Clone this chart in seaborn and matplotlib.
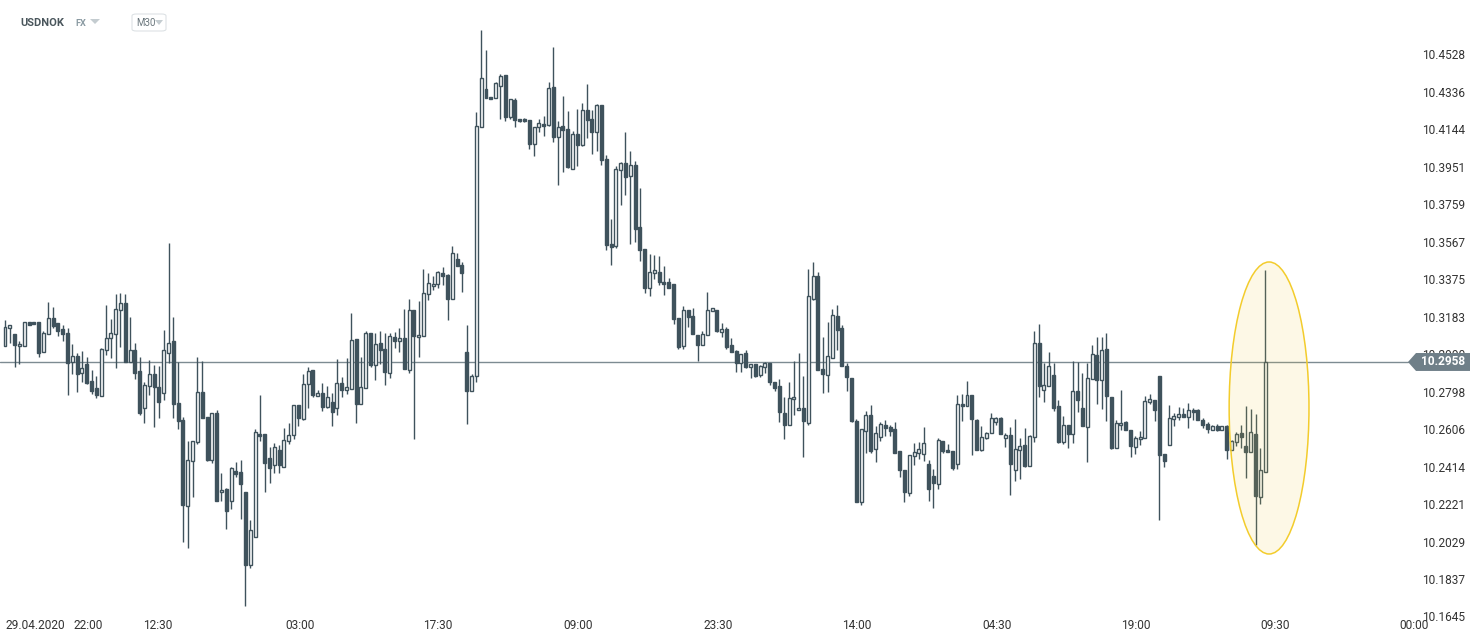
import matplotlib
matplotlib.use("Agg")
import matplotlib.pyplot as plt
import matplotlib.transforms as mtransforms
from matplotlib.patches import Ellipse, Polygon, FancyBboxPatch
import numpy as np
import pandas as pd
import seaborn as sns

# ---------------- data ----------------
symbol = "USDNOK"
market = "FX"
timeframe = "M30"
date_label = "29.04.2020"
last_price = 10.2958

opens = [10.3040,10.3132,10.3101,10.3040,10.3040,10.3163,10.3163,10.3163,10.3010,10.3101,
         10.3184,10.3158,10.3127,10.3107,10.2958,10.2989,10.2902,10.2947,10.2861,10.2825,
         10.2783,10.3020,10.3081,10.3101,10.3225,10.3261,10.2958,10.3020,10.2912,10.2722,
         10.2835,10.2896,10.2830,10.2799,10.3005,10.3066,10.2748,10.2660,10.2219,10.2450,
         10.2548,10.2804,10.2676,10.2455,10.2697,10.2291,10.2307,10.2245,10.2399,10.2394,
         10.2291,10.1916,10.2060,10.2588,10.2588,10.2466,10.2429,10.2507,10.2419,10.2553,
         10.2583,10.2737,10.2665,10.2845,10.2917,10.2783,10.2799,10.2727,10.2753,10.2722,
         10.2851,10.2814,10.2820,10.3076,10.2742,10.2825,10.3107,10.2942,10.3056,10.3025,
         10.2902,10.3086,10.3066,10.3081,10.2917,10.3225,10.3086,10.3091,10.3306,10.3348,
         10.3358,10.3415,10.3404,10.3281,10.3487,10.3455,10.3010,10.2809,10.2886,10.4163,
         10.4359,10.4317,10.4312,10.4374,10.4430,10.4215,10.4302,10.4204,10.4204,10.4199,
         10.4076,10.4163,10.4179,10.4174,10.4369,10.4112,10.4168,10.4153,10.3948,10.4128,
         10.4071,10.4251,10.4204,10.4138,10.4276,10.3999,10.3563,10.3553,10.3943,10.3979,
         10.3912,10.3969,10.3650,10.3538,10.3338,10.3415,10.3420,10.3369,10.3369,10.3358,
         10.3184,10.3040,10.3225,10.3194,10.3096,10.3045,10.3096,10.3220,10.3225,10.3112,
         10.3127,10.3045,10.3015,10.2953,10.3005,10.2932,10.2947,10.2891,10.2932,10.2953,
         10.2856,10.2835,10.2697,10.2635,10.2768,10.2712,10.2722,10.2645,10.3281,10.3399,
         10.2922,10.2891,10.2979,10.3194,10.3132,10.2937,10.2876,10.2655,10.2240,10.2604,
         10.2686,10.2512,10.2573,10.2635,10.2624,10.2614,10.2502,10.2404,10.2286,10.2476,
         10.2492,10.2486,10.2435,10.2373,10.2332,10.2553,10.2507,10.2502,10.2435,10.2742,
         10.2732,10.2788,10.2660,10.2507,10.2568,10.2594,10.2650,10.2670,10.2568,10.2583,
         10.2404,10.2507,10.2532,10.2424,10.2573,10.3056,10.2814,10.2835,10.2891,10.2732,
         10.2548,10.2635,10.2588,10.2809,10.2722,10.2624,10.2871,10.2994,10.2866,10.3025,
         10.2778,10.2517,10.2635,10.2650,10.2609,10.2522,10.2563,10.2568,10.2753,10.2763,
         10.2886,10.2486,10.2532,10.2665,10.2676,10.2691,10.2676,10.2712,10.2712,10.2660,
         10.2640,10.2609,10.2629,10.2609,10.2629,10.2507,10.2548,10.2594,10.2527,10.2497,
         10.2588,10.2265,10.2394]
highs = [10.3173,10.3147,10.3101,10.3066,10.3163,10.3163,10.3163,10.3163,10.3117,10.3266,
         10.3240,10.3158,10.3147,10.3132,10.3050,10.3005,10.3015,10.2984,10.2917,10.2886,
         10.3030,10.3250,10.3179,10.3306,10.3312,10.3306,10.3189,10.3056,10.2984,10.2856,
         10.2968,10.2942,10.2937,10.3122,10.3569,10.3189,10.2958,10.2676,10.2553,10.2553,
         10.2984,10.2963,10.2676,10.2697,10.2712,10.2389,10.2312,10.2419,10.2445,10.2455,
         10.2291,10.2147,10.2614,10.2788,10.2588,10.2522,10.2543,10.2532,10.2619,10.2645,
         10.2737,10.2737,10.2896,10.2932,10.2917,10.2814,10.2851,10.2835,10.2799,10.2973,
         10.2881,10.2979,10.3210,10.3076,10.2984,10.3117,10.3107,10.3107,10.3117,10.3107,
         10.3107,10.3112,10.3132,10.3230,10.3281,10.3225,10.3271,10.3435,10.3415,10.3399,
         10.3425,10.3445,10.3410,10.3553,10.3518,10.3471,10.3147,10.2896,10.4241,10.4661,
         10.4559,10.4317,10.4394,10.4435,10.4430,10.4307,10.4312,10.4204,10.4209,10.4199,
         10.4163,10.4204,10.4220,10.4394,10.4574,10.4194,10.4322,10.4245,10.4143,10.4256,
         10.4287,10.4384,10.4251,10.4281,10.4276,10.4020,10.3692,10.3963,10.3984,10.4138,
         10.4040,10.3989,10.3851,10.3538,10.3512,10.3507,10.3502,10.3450,10.3389,10.3358,
         10.3184,10.3245,10.3225,10.3235,10.3096,10.3117,10.3317,10.3235,10.3225,10.3158,
         10.3137,10.3081,10.3020,10.2999,10.3020,10.2947,10.2947,10.2942,10.2958,10.2953,
         10.2856,10.2871,10.2778,10.2856,10.2963,10.3005,10.2886,10.3435,10.3471,10.3420,
         10.3086,10.3163,10.3230,10.3250,10.3147,10.2953,10.2876,10.2665,10.2614,10.2707,
         10.2737,10.2629,10.2650,10.2660,10.2635,10.2650,10.2502,10.2404,10.2481,10.2543,
         10.2548,10.2624,10.2455,10.2409,10.2568,10.2553,10.2537,10.2502,10.2788,10.2793,
         10.2861,10.2788,10.2665,10.2629,10.2599,10.2697,10.2676,10.2676,10.2594,10.2624,
         10.2665,10.2568,10.2619,10.2583,10.3117,10.3152,10.2953,10.3010,10.2953,10.2763,
         10.2681,10.2635,10.2963,10.2958,10.2902,10.2953,10.3045,10.3086,10.3086,10.3107,
         10.2778,10.2660,10.2814,10.2655,10.2609,10.2578,10.2604,10.2783,10.2793,10.2763,
         10.2886,10.2486,10.2737,10.2697,10.2727,10.2722,10.2748,10.2722,10.2717,10.2670,
         10.2650,10.2635,10.2640,10.2629,10.2635,10.2558,10.2599,10.2635,10.2732,10.2717,
         10.2691,10.2517,10.3430]
lows = [10.3040,10.3056,10.2932,10.2947,10.3040,10.3147,10.3152,10.2984,10.3010,10.3101,
        10.3132,10.3091,10.3066,10.2788,10.2896,10.2804,10.2856,10.2845,10.2793,10.2773,
        10.2783,10.2994,10.2979,10.2927,10.3035,10.2958,10.2958,10.2871,10.2686,10.2645,
        10.2788,10.2624,10.2670,10.2763,10.2953,10.2670,10.2614,10.2035,10.2004,10.2265,
        10.2537,10.2670,10.2450,10.2440,10.2245,10.2245,10.2101,10.2204,10.2368,10.2153,
        10.1706,10.1901,10.2060,10.2553,10.2291,10.2338,10.2389,10.2389,10.2419,10.2537,
        10.2563,10.2629,10.2660,10.2722,10.2778,10.2783,10.2707,10.2722,10.2629,10.2686,
        10.2778,10.2793,10.2820,10.2645,10.2742,10.2825,10.2932,10.2866,10.2947,10.2840,
        10.2876,10.3030,10.3010,10.2922,10.2902,10.2563,10.2984,10.3091,10.3276,10.3327,
        10.3338,10.3353,10.3173,10.3281,10.3450,10.3317,10.2640,10.2809,10.2856,10.4163,
        10.4312,10.4307,10.4312,10.4204,10.4194,10.4204,10.4163,10.4189,10.4189,10.4051,
        10.4015,10.4138,10.4117,10.4168,10.4087,10.3866,10.3933,10.3953,10.3948,10.3963,
        10.4066,10.4107,10.4025,10.4040,10.3969,10.3533,10.3455,10.3543,10.3763,10.3814,
        10.3563,10.3574,10.3476,10.3312,10.3296,10.3384,10.3353,10.3302,10.3338,10.3152,
        10.3025,10.3025,10.3137,10.3101,10.2963,10.3045,10.3096,10.3220,10.3112,10.3086,
        10.3025,10.3010,10.2907,10.2907,10.2927,10.2876,10.2881,10.2881,10.2902,10.2840,
        10.2809,10.2650,10.2563,10.2635,10.2686,10.2712,10.2471,10.2635,10.3276,10.2917,
        10.2799,10.2804,10.2979,10.3020,10.2937,10.2809,10.2650,10.2240,10.2224,10.2492,
        10.2492,10.2445,10.2553,10.2578,10.2578,10.2492,10.2368,10.2240,10.2271,10.2429,
        10.2461,10.2450,10.2245,10.2209,10.2307,10.2492,10.2497,10.2404,10.2409,10.2655,
        10.2732,10.2481,10.2507,10.2502,10.2563,10.2594,10.2635,10.2588,10.2522,10.2276,
        10.2348,10.2358,10.2419,10.2424,10.2548,10.2778,10.2753,10.2835,10.2707,10.2543,
        10.2537,10.2517,10.2543,10.2702,10.2629,10.2445,10.2871,10.2742,10.2717,10.2655,
        10.2512,10.2517,10.2609,10.2609,10.2471,10.2486,10.2532,10.2568,10.2742,10.2655,
        10.2147,10.2419,10.2532,10.2629,10.2660,10.2676,10.2619,10.2660,10.2660,10.2619,
        10.2594,10.2609,10.2604,10.2609,10.2461,10.2507,10.2527,10.2517,10.2363,10.2497,
        10.2019,10.2230,10.2394]
closes = [10.3137,10.3147,10.3045,10.3050,10.3163,10.3147,10.3152,10.3005,10.3107,10.3184,
          10.3142,10.3117,10.3101,10.2953,10.2989,10.2896,10.2927,10.2851,10.2809,10.2788,
          10.3025,10.3081,10.3107,10.3230,10.3261,10.2958,10.3020,10.2902,10.2697,10.2840,
          10.2896,10.2830,10.2753,10.3020,10.3056,10.2742,10.2655,10.2224,10.2455,10.2553,
          10.2804,10.2670,10.2455,10.2697,10.2245,10.2301,10.2194,10.2414,10.2383,10.2332,
          10.1916,10.2096,10.2599,10.2578,10.2440,10.2414,10.2522,10.2429,10.2558,10.2583,
          10.2737,10.2670,10.2845,10.2912,10.2788,10.2799,10.2727,10.2778,10.2702,10.2851,
          10.2814,10.2830,10.3071,10.2742,10.2830,10.3107,10.2942,10.3050,10.3020,10.2907,
          10.3091,10.3066,10.3081,10.2922,10.3225,10.3091,10.3096,10.3312,10.3364,10.3358,
          10.3420,10.3399,10.3281,10.3518,10.3450,10.3415,10.2809,10.2886,10.4168,10.4415,
          10.4312,10.4307,10.4389,10.4425,10.4215,10.4307,10.4199,10.4194,10.4194,10.4076,
          10.4163,10.4184,10.4168,10.4364,10.4112,10.4163,10.4148,10.3958,10.4128,10.4071,
          10.4251,10.4199,10.4138,10.4276,10.3994,10.3558,10.3548,10.3948,10.3979,10.3907,
          10.3969,10.3640,10.3533,10.3338,10.3420,10.3430,10.3369,10.3358,10.3338,10.3179,
          10.3035,10.3225,10.3189,10.3101,10.3045,10.3101,10.3225,10.3235,10.3117,10.3127,
          10.3035,10.3010,10.2953,10.2999,10.2932,10.2947,10.2886,10.2937,10.2953,10.2856,
          10.2825,10.2702,10.2635,10.2773,10.2778,10.2722,10.2655,10.3296,10.3399,10.2917,
          10.2896,10.2989,10.3199,10.3122,10.2937,10.2881,10.2655,10.2240,10.2614,10.2686,
          10.2502,10.2594,10.2640,10.2619,10.2604,10.2492,10.2404,10.2291,10.2481,10.2497,
          10.2512,10.2543,10.2307,10.2338,10.2558,10.2502,10.2497,10.2414,10.2742,10.2732,
          10.2788,10.2665,10.2507,10.2573,10.2594,10.2670,10.2670,10.2588,10.2583,10.2435,
          10.2512,10.2527,10.2424,10.2578,10.3056,10.2835,10.2840,10.2937,10.2722,10.2548,
          10.2635,10.2588,10.2809,10.2763,10.2629,10.2876,10.2999,10.2866,10.3020,10.2783,
          10.2517,10.2645,10.2645,10.2609,10.2527,10.2568,10.2573,10.2758,10.2768,10.2712,
          10.2481,10.2450,10.2670,10.2681,10.2691,10.2676,10.2712,10.2702,10.2660,10.2635,
          10.2614,10.2629,10.2609,10.2629,10.2507,10.2553,10.2588,10.2573,10.2497,10.2599,
          10.2271,10.2404,10.2958]

price_ticks = [10.4528, 10.4336, 10.4144, 10.3951, 10.3759, 10.3567, 10.3375, 10.3183,
               10.2990, 10.2798, 10.2606, 10.2414, 10.2221, 10.2029, 10.1837, 10.1645]
time_labels = ["22:00", "12:30", "03:00", "17:30", "09:00", "23:30", "14:00",
               "04:30", "19:00", "09:30", "00:00"]
time_tick_pos = [17.3, 31.8, 61.3, 90.0, 119.1, 148.2, 177.1, 206.2, 235.1, 264.0, 292.9]

df = pd.DataFrame({"open": opens, "high": highs, "low": lows, "close": closes})
df["idx"] = np.arange(len(df))
df["up"] = df["close"] >= df["open"]

# ---------------- style ----------------
sns.set_theme(style="white")
plt.rcParams["font.family"] = ["Roboto", "DejaVu Sans"]

W, H = 1482, 643
fig = plt.figure(figsize=(W / 100, H / 100), dpi=100)
fig.patch.set_facecolor("white")

ax_bottom_px, ax_top_px = 610, 20
ax = fig.add_axes([0, (H - ax_bottom_px) / H, 1, (ax_bottom_px - ax_top_px) / H])
ax.set_facecolor("white")
sns.despine(ax=ax, left=True, bottom=True)
ax.set_xticks([])
ax.set_yticks([])

px_per_candle = 4.81
x_left = -5 / px_per_candle
x_right = x_left + W / px_per_candle
ax.set_xlim(x_left, x_right)
ax.set_ylim(10.16857, 10.47124)

candle_col = "#3f525c"

# current price line
ax.axhline(last_price, xmin=0, xmax=1408 / W, color="#7d8b92", lw=1.0, zorder=2)

# wicks
ax.vlines(df["idx"], df["low"], df["high"], color=candle_col, lw=1.0, zorder=3)

# bodies
bw = 0.62
for _, r in df.iterrows():
    lo = min(r["open"], r["close"])
    hi = max(r["open"], r["close"])
    h = max(hi - lo, 0.00025)
    face = "white" if r["up"] else candle_col
    ax.bar(r["idx"], h, bottom=lo, width=bw, facecolor=face, edgecolor=candle_col,
           linewidth=1.0, zorder=4)

# highlight ellipse: translucent tint on top + outline
ell_c, ell_w, ell_h = (262.8, 10.2722), 16.6, 0.1498
ax.add_patch(Ellipse(ell_c, ell_w, ell_h, facecolor="#f0d040", edgecolor="none",
                     alpha=0.13, zorder=5))
ax.add_patch(Ellipse(ell_c, ell_w, ell_h, facecolor="none", edgecolor="#f3cc2c",
                     lw=1.1, zorder=6))

# price axis labels
ytrans = mtransforms.blended_transform_factory(fig.transFigure, ax.transData)
for p in price_ticks:
    ax.text(1422 / W, p, f"{p:.4f}", transform=ytrans, ha="left", va="center",
            fontsize=8.6, color="#333333", zorder=7)

# last price badge
bx0, bx1 = 1408 / W, 1470 / W
tip = 1416 / W
ph = 0.0046
badge = Polygon([[bx0, last_price], [tip, last_price + ph], [bx1, last_price + ph],
                 [bx1, last_price - ph], [tip, last_price - ph]], closed=True,
                transform=ytrans, facecolor="#6f7f88", edgecolor="none", zorder=8)
ax.add_artist(badge)
ax.text(1421 / W, last_price, f"{last_price:.4f}", transform=ytrans, ha="left", va="center",
        fontsize=8.6, color="white", fontweight="bold", zorder=9)

# time labels
xtrans = mtransforms.blended_transform_factory(ax.transData, fig.transFigure)
label_y = (H - 625.5) / H
for lbl, pos in zip(time_labels, time_tick_pos):
    ax.text(pos, label_y, lbl, transform=xtrans, ha="center", va="center",
            fontsize=8.6, color="#333333")
fig.text(5 / W, label_y, date_label, ha="left", va="center", fontsize=8.6, color="#333333")

# header
fig.text(20 / W, (H - 23) / H, symbol, ha="left", va="center", fontsize=8.0,
         fontweight="bold", color="#4a565c")
fig.text(75 / W, (H - 23.5) / H, market, ha="left", va="center", fontsize=6.6,
         fontweight="bold", color="#8a9aa2")
tri = Polygon([[90 / W, (H - 19) / H], [100 / W, (H - 19) / H], [95 / W, (H - 24) / H]],
              closed=True, transform=fig.transFigure, facecolor="#c4ccd0", edgecolor="none")
fig.add_artist(tri)
box = FancyBboxPatch((132 / W, (H - 31) / H), 34 / W, 17 / H,
                     boxstyle="round,pad=0,rounding_size=0.003", transform=fig.transFigure,
                     facecolor="white", edgecolor="#dde2e5", lw=0.8)
fig.add_artist(box)
fig.text(136 / W, (H - 23) / H, timeframe, ha="left", va="center", fontsize=7.0,
         color="#6a767c")
tri2 = Polygon([[155 / W, (H - 20) / H], [163 / W, (H - 20) / H], [159 / W, (H - 25) / H]],
               closed=True, transform=fig.transFigure, facecolor="#c4ccd0", edgecolor="none")
fig.add_artist(tri2)

fig.savefig("out.png", dpi=100, facecolor="white")
